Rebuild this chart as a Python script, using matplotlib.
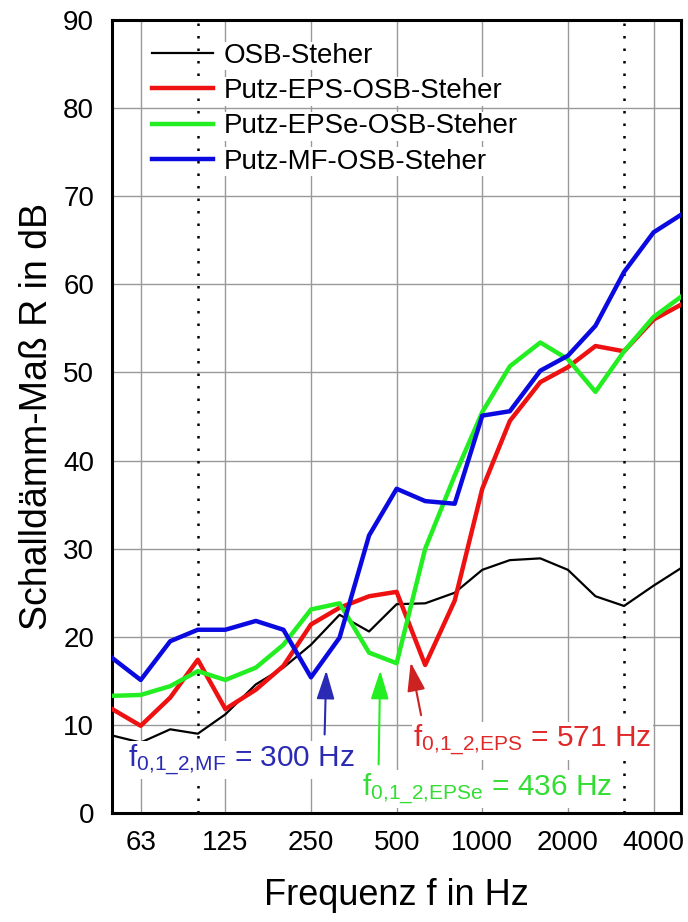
import numpy as np
from matplotlib import pyplot as plt

plt.rcParams['font.family'] = ['Liberation Sans', 'DejaVu Sans']
plt.rcParams['mathtext.fontset'] = 'custom'
plt.rcParams['mathtext.rm'] = 'Liberation Sans'
plt.rcParams['mathtext.it'] = 'Liberation Sans'

# Terzband-Mittenfrequenzen
freq = [50, 63, 80, 100, 125, 160, 200, 250, 315, 400, 500, 630, 800,
        1000, 1250, 1600, 2000, 2500, 3150, 4000, 5000]

osb = [8.8, 8.0, 9.5, 9.0, 11.2, 14.6, 16.5, 19.1, 22.5, 20.6, 23.7, 23.8, 25.0,
       27.6, 28.7, 28.9, 27.6, 24.6, 23.5, 25.8, 27.8]
eps = [11.8, 9.9, 13.1, 17.4, 11.8, 14.0, 16.7, 21.4, 23.3, 24.6, 25.1, 16.8, 24.1,
       36.8, 44.5, 48.9, 50.6, 53.0, 52.4, 56.0, 57.7]
epse = [13.3, 13.4, 14.4, 16.1, 15.1, 16.5, 19.1, 23.1, 23.8, 18.2, 17.0, 30.0, 38.3,
        45.5, 50.7, 53.4, 51.5, 47.8, 52.4, 56.3, 58.6]
mf = [17.6, 15.1, 19.5, 20.8, 20.8, 21.8, 20.8, 15.4, 19.9, 31.5, 36.8, 35.4, 35.1,
      45.1, 45.6, 50.2, 51.9, 55.3, 61.4, 65.9, 67.9]

tick_freq = [63, 125, 250, 500, 1000, 2000, 4000]
tick_labels = ["63", "125", "250", "500", "1000", "2000", "4000"]
dotted_freq = [100, 3150]

c_red = '#ee1111'
c_green = '#22ee22'
c_blue = '#0a0ae0'

fig = plt.figure(figsize=(6.88, 9.22), dpi=100)
ax = fig.add_axes([0.163, 0.1182, 0.827, 0.8601])

ax.set_xscale("log")
ax.set_xlim(50, 5000)
ax.set_ylim(0, 90)

ax.plot(freq, osb, color="black", lw=1.6, label="OSB-Steher", zorder=3)
ax.plot(freq, eps, color=c_red, lw=3.2, label="Putz-EPS-OSB-Steher", zorder=3)
ax.plot(freq, epse, color=c_green, lw=3.2, label="Putz-EPSe-OSB-Steher", zorder=3)
ax.plot(freq, mf, color=c_blue, lw=3.2, label="Putz-MF-OSB-Steher", zorder=4)

for f in dotted_freq:
    ax.axvline(f, color="black", ls=(0, (1, 4)), lw=1.8, zorder=2)

ax.set_xticks(tick_freq)
ax.set_xticklabels(tick_labels)
ax.xaxis.set_minor_locator(plt.NullLocator())
ax.set_yticks(np.arange(0, 91, 10))
ax.grid(True, color="#999999", lw=1.0, zorder=0)
ax.set_axisbelow(True)
ax.tick_params(length=0, labelsize=20)
ax.tick_params(axis="y", pad=13)
ax.tick_params(axis="x", pad=12)
for s in ax.spines.values():
    s.set_linewidth(2.2)

ax.set_xlabel("Frequenz f in Hz", fontsize=26, labelpad=16)
ax.set_ylabel("Schalldämm-Maß R in dB", fontsize=27, labelpad=6)

leg = ax.legend(loc="upper left", bbox_to_anchor=(0.05, 0.985), frameon=False,
                fontsize=20, handlelength=2.2, handletextpad=0.4,
                labelspacing=0.33, borderaxespad=0)
for t in leg.get_texts():
    t.set_bbox(dict(facecolor="white", edgecolor="none", pad=1))

# Resonanzfrequenzen
bbox_w = dict(facecolor="white", edgecolor="none", pad=1)
arrow = "-|>,head_length=0.8,head_width=0.25"
ax.annotate("", xy=(283, 16.5), xytext=(279, 8.6),
            arrowprops=dict(arrowstyle=arrow, color="#2a2ab4", lw=1.5, mutation_scale=22), zorder=5)
ax.text(57, 6.0, r"f$_{\mathrm{0{,}1\_2{,}MF}}$ = 300 Hz", color="#2a2ab4", fontsize=21.5,
        va="center", ha="left", bbox=bbox_w, zorder=6)

ax.annotate("", xy=(438, 16.5), xytext=(432, 5.2),
            arrowprops=dict(arrowstyle=arrow, color=c_green, lw=1.5, mutation_scale=22), zorder=5)
ax.text(378, 2.7, r"f$_{\mathrm{0{,}1\_2{,}EPSe}}$ = 436 Hz", color="#33dd33", fontsize=21.5,
        va="center", ha="left", bbox=bbox_w, zorder=6)

ax.annotate("", xy=(558, 17.4), xytext=(612, 10.8),
            arrowprops=dict(arrowstyle=arrow, color="#cc2222", lw=1.5, mutation_scale=22), zorder=5)
ax.text(572, 8.2, r"f$_{\mathrm{0{,}1\_2{,}EPS}}$ = 571 Hz", color="#e02828", fontsize=21.5,
        va="center", ha="left", bbox=bbox_w, zorder=6)

plt.savefig("out.png", dpi=100)
